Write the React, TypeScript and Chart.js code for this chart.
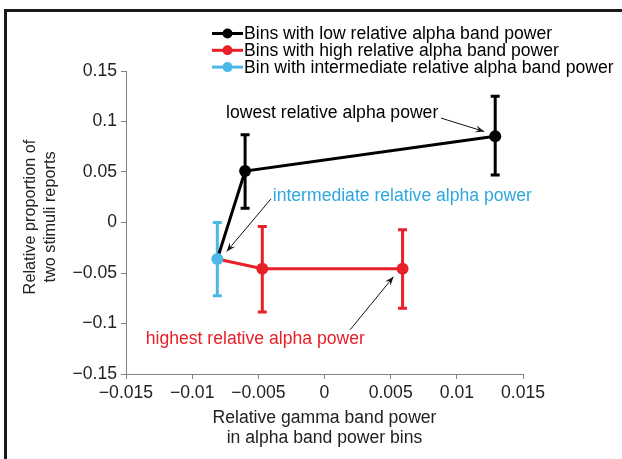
import React, { useEffect, useRef } from "react";
import { Chart, registerables } from "chart.js";

Chart.register(...registerables);

// ---- data ----
const lowX = [-0.006, 0.0129];
const lowY = [0.051, 0.0855];
const lowHi = [0.087, 0.125];
const lowLo = [0.014, 0.047];

const highX = [-0.0047, 0.0059];
const highY = [-0.0458, -0.0458];
const highHi = [-0.004, -0.0072];
const highLo = [-0.0887, -0.0848];

const midX = [-0.0081];
const midY = [-0.0362];
const midHi = [0.0];
const midLo = [-0.0726];

const xTickValues = [-0.015, -0.01, -0.005, 0, 0.005, 0.01, 0.015];
const yTickValues = [-0.15, -0.1, -0.05, 0, 0.05, 0.1, 0.15];

const legendLabels = [
  "Bins with low relative alpha band power",
  "Bins with high relative alpha band power",
  "Bin with intermediate relative alpha band power",
];
const xTitle = ["Relative gamma band power", "in alpha band power bins"];
const yTitle = ["Relative proportion of", "two stimuli reports"];

const annotations = [
  { text: "lowest relative alpha power", x: -0.00744, y: 0.1083, color: "#000000", from: [0.0088, 0.1034], to: [0.01207, 0.0901] },
  { text: "intermediate relative alpha power", x: -0.00391, y: 0.0257, color: "#2ea6de", from: [-0.00404, 0.0235], to: [-0.00739, -0.0287] },
  { text: "highest relative alpha power", x: -0.01351, y: -0.1151, color: "#e8202a", from: [0.00194, -0.1062], to: [0.00521, -0.0538] },
];

const BLACK = "#000000";
const RED = "#e8202a";
const CYAN = "#4cb8e8";
const FONT = "'Liberation Sans', Arial, sans-serif";
const FS = 17.6;

const fmt = (v: number) => {
  const s = parseFloat(Number(v).toFixed(3)).toString();
  return s.replace("-", "\u2212");
};

export default function App() {
  const ref = useRef<HTMLCanvasElement | null>(null);
  useEffect(() => {
    const canvas = ref.current!;
    const errSets = [
      { xs: lowX, hi: lowHi, lo: lowLo, color: BLACK },
      { xs: highX, hi: highHi, lo: highLo, color: RED },
      { xs: midX, hi: midHi, lo: midLo, color: CYAN },
    ];
    const extras = {
      id: "extras",
      beforeDatasetsDraw(chart: any) {
        const ctx = chart.ctx;
        const xs = chart.scales.x;
        const ys = chart.scales.y;
        ctx.save();
        ctx.lineWidth = 3;
        for (const s of errSets) {
          ctx.strokeStyle = s.color;
          s.xs.forEach((xv, i) => {
            const px = xs.getPixelForValue(xv);
            const top = ys.getPixelForValue(s.hi[i]);
            const bot = ys.getPixelForValue(s.lo[i]);
            ctx.beginPath();
            ctx.moveTo(px, top);
            ctx.lineTo(px, bot);
            ctx.moveTo(px - 4.5, top);
            ctx.lineTo(px + 4.5, top);
            ctx.moveTo(px - 4.5, bot);
            ctx.lineTo(px + 4.5, bot);
            ctx.stroke();
          });
        }
        ctx.restore();
      },
      afterDraw(chart: any) {
        const ctx = chart.ctx;
        const xs = chart.scales.x;
        const ys = chart.scales.y;
        const ca = chart.chartArea;
        ctx.save();
        // frame
        ctx.strokeStyle = "#1a1a1a";
        ctx.lineWidth = 3;
        ctx.strokeRect(5.5, 10.5, 640, 480);
        // legend
        const colors = [BLACK, RED, CYAN];
        ctx.font = `${FS}px ${FONT}`;
        ctx.textBaseline = "middle";
        ctx.textAlign = "left";
        legendLabels.forEach((t, i) => {
          const y = 33.5 + i * 16.8;
          ctx.strokeStyle = colors[i];
          ctx.lineWidth = 3;
          ctx.beginPath();
          ctx.moveTo(212, y);
          ctx.lineTo(243, y);
          ctx.stroke();
          ctx.fillStyle = colors[i];
          ctx.beginPath();
          ctx.arc(227.5, y, 5, 0, Math.PI * 2);
          ctx.fill();
          ctx.fillStyle = "#000";
          ctx.fillText(t, 244, y + 1);
        });
        // annotations
        for (const a of annotations) {
          ctx.fillStyle = a.color;
          ctx.textAlign = "left";
          ctx.fillText(a.text, xs.getPixelForValue(a.x), ys.getPixelForValue(a.y));
          const x1 = xs.getPixelForValue(a.from[0]);
          const y1 = ys.getPixelForValue(a.from[1]);
          const x2 = xs.getPixelForValue(a.to[0]);
          const y2 = ys.getPixelForValue(a.to[1]);
          ctx.strokeStyle = "#111";
          ctx.fillStyle = "#111";
          ctx.lineWidth = 1;
          ctx.beginPath();
          ctx.moveTo(x1, y1);
          ctx.lineTo(x2, y2);
          ctx.stroke();
          const ang = Math.atan2(y2 - y1, x2 - x1);
          const L = 9, W = 3.5;
          ctx.beginPath();
          ctx.moveTo(x2, y2);
          ctx.lineTo(x2 - L * Math.cos(ang) + W * Math.sin(ang), y2 - L * Math.sin(ang) - W * Math.cos(ang));
          ctx.lineTo(x2 - 0.6 * L * Math.cos(ang), y2 - 0.6 * L * Math.sin(ang));
          ctx.lineTo(x2 - L * Math.cos(ang) - W * Math.sin(ang), y2 - L * Math.sin(ang) + W * Math.cos(ang));
          ctx.closePath();
          ctx.fill();
        }
        // axis titles
        ctx.fillStyle = "#222";
        ctx.font = `${FS}px ${FONT}`;
        ctx.textAlign = "center";
        const cx = (ca.left + ca.right) / 2;
        xTitle.forEach((t, i) => ctx.fillText(t, cx, 418 + i * 20));
        ctx.font = `16.3px ${FONT}`;
        ctx.translate(31, 217);
        ctx.rotate(-Math.PI / 2);
        yTitle.forEach((t, i) => ctx.fillText(t, 0, i * 19.5));
        ctx.restore();
      },
    };

    const chart = new Chart(canvas, {
      type: "scatter",
      data: {
        datasets: [
          {
            label: legendLabels[2],
            data: midX.map((x, i) => ({ x, y: midY[i] })),
            borderColor: CYAN,
            backgroundColor: CYAN,
            pointRadius: 6,
            pointHoverRadius: 6,
            pointBorderWidth: 0,
            showLine: false,
            order: 0,
          },
          {
            label: legendLabels[0],
            data: [
              ...midX.map((x, i) => ({ x, y: midY[i] })),
              ...lowX.map((x, i) => ({ x, y: lowY[i] })),
            ],
            borderColor: BLACK,
            backgroundColor: BLACK,
            borderWidth: 3,
            pointRadius: [0, 6, 6],
            pointBorderWidth: 0,
            showLine: true,
            order: 1,
          },
          {
            label: legendLabels[1],
            data: [
              ...midX.map((x, i) => ({ x, y: midY[i] })),
              ...highX.map((x, i) => ({ x, y: highY[i] })),
            ],
            borderColor: RED,
            backgroundColor: RED,
            borderWidth: 3,
            pointRadius: [0, 6, 6],
            pointBorderWidth: 0,
            showLine: true,
            order: 2,
          },
        ],
      },
      options: {
        responsive: false,
        animation: false,
        devicePixelRatio: 1,
        layout: { padding: { left: 0, right: 99, top: 71, bottom: 0 } },
        plugins: { legend: { display: false }, tooltip: { enabled: false } },
        scales: {
          x: {
            type: "linear",
            min: -0.015,
            max: 0.015,
            afterFit: (s: any) => { s.height = 85; },
            afterBuildTicks: (s: any) => {
              s.ticks = xTickValues.map((v) => ({ value: v }));
            },
            ticks: { callback: (v: any) => fmt(v), color: "#222", font: { family: FONT, size: FS }, padding: 4, maxRotation: 0, autoSkip: false },
            grid: { drawOnChartArea: false, drawTicks: true, tickLength: 5, color: "#808080" },
            border: { display: true, color: "#808080", width: 1 },
          },
          y: {
            type: "linear",
            min: -0.15,
            max: 0.15,
            afterFit: (s: any) => { s.width = 126; },
            afterBuildTicks: (s: any) => {
              s.ticks = yTickValues.map((v) => ({ value: v }));
            },
            ticks: { callback: (v: any) => fmt(v), color: "#222", font: { family: FONT, size: FS }, padding: 4, autoSkip: false },
            grid: { drawOnChartArea: false, drawTicks: true, tickLength: 5, color: "#808080" },
            border: { display: true, color: "#808080", width: 1 },
          },
        },
      },
      plugins: [extras],
    });
    return () => chart.destroy();
  }, []);
  return (
    <div style={{ position: "fixed", left: 0, top: 0, width: 622, height: 459, background: "#fff" }}>
      <canvas ref={ref} width={622} height={459} />
    </div>
  );
}
